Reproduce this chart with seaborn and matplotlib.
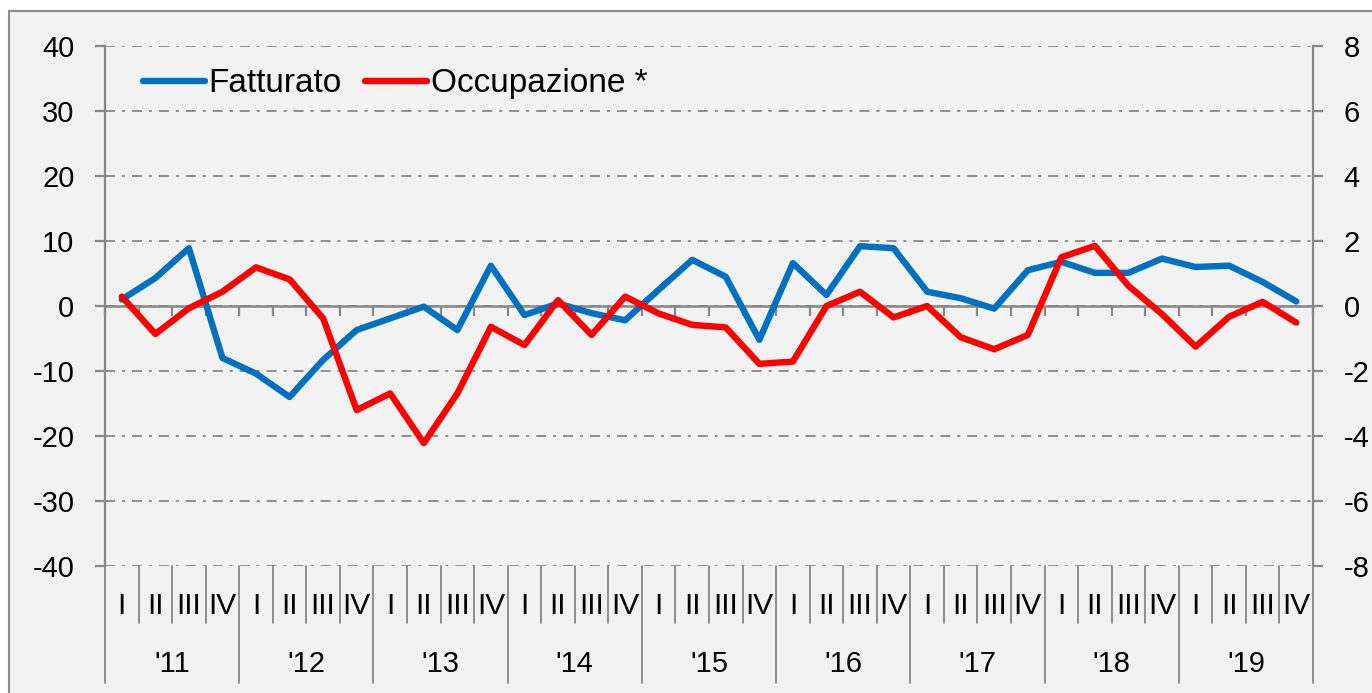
import numpy as np
import seaborn as sns
import matplotlib

matplotlib.use("Agg")
import matplotlib.pyplot as plt
import matplotlib.transforms as mtransforms
from matplotlib.patches import Rectangle
from matplotlib.lines import Line2D

# quarterly data 2011-2019
years = ["'11", "'12", "'13", "'14", "'15", "'16", "'17", "'18", "'19"]
quarters = ["I", "II", "III", "IV"]

fatturato = [
    1.0, 4.3, 8.9, -8.0, -10.4, -14.0, -8.3, -3.7, -1.9, -0.1, -3.7, 6.2,
    -1.4, 0.4, -1.1, -2.2, 2.5, 7.1, 4.5, -5.2, 6.6, 1.7, 9.2, 8.9,
    2.2, 1.2, -0.4, 5.5, 6.8, 5.1, 5.1, 7.3, 6.0, 6.2, 3.7, 0.7,
]
occupazione = [
    0.29, -0.86, -0.07, 0.44, 1.19, 0.82, -0.38, -3.2, -2.69, -4.22, -2.69, -0.64,
    -1.2, 0.18, -0.89, 0.29, -0.23, -0.58, -0.66, -1.78, -1.71, 0.0, 0.44, -0.35,
    0.0, -0.96, -1.33, -0.89, 1.5, 1.85, 0.62, -0.25, -1.25, -0.33, 0.13, -0.51,
]

left_ticks = list(range(-40, 41, 10))
right_ticks = list(range(-8, 9, 2))

BLUE = "#0070C0"
RED = "#FF0000"
GRAY = "#878787"

sns.set_theme(style="white")
plt.rcParams["font.family"] = ["Liberation Sans", "DejaVu Sans"]
plt.rcParams["axes.unicode_minus"] = False
plt.rcParams["lines.scale_dashes"] = False
plt.rcParams["text.color"] = "black"

W, H = 1372, 693
fig = plt.figure(figsize=(W / 100, H / 100), dpi=100, facecolor="white")

# grey panel with border
fig.add_artist(
    Rectangle((9 / W, -0.1), 1.2, 1 - 11 / H + 0.1, transform=fig.transFigure,
              facecolor="#F2F2F2", edgecolor="#8C8C8C", linewidth=1.5, zorder=-10)
)

left, right, top, bottom = 105 / W, 1313 / W, 1 - 46 / H, 1 - 566 / H
ax = fig.add_axes([left, bottom, right - left, top - bottom])
ax.set_facecolor("none")
ax2 = ax.twinx()
ax2.set_facecolor("none")

n = len(fatturato)
x = np.arange(n)
LW = 4.6

sns.lineplot(x=x, y=fatturato, ax=ax, color=BLUE, linewidth=LW,
             label="Fatturato", zorder=3, legend=False)
sns.lineplot(x=x, y=occupazione, ax=ax2, color=RED, linewidth=LW,
             label="Occupazione *", zorder=3, legend=False)

ax.set_xlim(-0.5, n - 0.5)
ax.set_ylim(-40, 40)
ax2.set_ylim(-8, 8)
ax.set_yticks(left_ticks)
ax.set_yticklabels([str(v) for v in left_ticks])
ax2.set_yticks(right_ticks)
ax2.set_yticklabels([str(v) for v in right_ticks])

dashdot = (0, (7.2, 5.0, 2.2, 5.0))
ax.grid(axis="y", color=GRAY, linewidth=1.3, linestyle=dashdot)
ax.grid(axis="x", visible=False)
ax2.grid(False)

for a in (ax, ax2):
    for s in a.spines.values():
        s.set_visible(False)
ax.spines["left"].set_visible(True)
ax.spines["left"].set_color(GRAY)
ax.spines["left"].set_linewidth(1.6)
ax.spines["bottom"].set_visible(True)
ax.spines["bottom"].set_position(("data", 0))
ax.spines["bottom"].set_color(GRAY)
ax.spines["bottom"].set_linewidth(1.8)
ax2.spines["right"].set_visible(True)
ax2.spines["right"].set_color(GRAY)
ax2.spines["right"].set_linewidth(1.6)

ax.set_xticks(np.arange(-0.5, n, 1.0))
ax.set_xticklabels([])
ax.tick_params(axis="x", direction="out", length=7, width=1.6, color=GRAY, bottom=True)
ax.tick_params(axis="y", direction="out", length=7, width=1.6, color=GRAY,
               left=True, labelsize=21, pad=15, labelcolor="black")
ax2.tick_params(axis="y", direction="out", length=7, width=1.6, color=GRAY,
                right=True, labelsize=21, pad=15, labelcolor="black")
ax2.tick_params(axis="x", bottom=False, labelbottom=False)
ax.set_xlabel("")
ax.set_ylabel("")
ax2.set_ylabel("")

# two-level category labels under the plot
trans = mtransforms.blended_transform_factory(ax.transData, ax.transAxes)
q_y = (566 - 606) / 520
y_y = (566 - 664) / 520
q_line = (566 - 623) / 520
y_line = (566 - 683) / 520
for i in range(n):
    ax.text(i, q_y, quarters[i % 4], transform=trans, ha="center", va="center",
            fontsize=21.5, color="black")
for k, yr in enumerate(years):
    ax.text(4 * k + 1.5, y_y, yr, transform=trans, ha="center", va="center",
            fontsize=21, color="black")
for b in range(n + 1):
    y_end = y_line if b % 4 == 0 else q_line
    ax.add_line(Line2D([b - 0.5, b - 0.5], [0, y_end], transform=trans,
                       color=GRAY, linewidth=1.3, clip_on=False))

handles = [Line2D([], [], color=BLUE, linewidth=LW, solid_capstyle="round"),
           Line2D([], [], color=RED, linewidth=LW, solid_capstyle="round")]
ax2.legend(handles, ["Fatturato", "Occupazione *"], loc="center left",
           bbox_to_anchor=(0.0315, 0.927), ncol=2, frameon=False, fontsize=24,
           handlelength=1.85, handletextpad=0.12, columnspacing=0.7,
           borderaxespad=0, borderpad=0, labelcolor="black")

fig.savefig("out.png", dpi=100, facecolor="white")
